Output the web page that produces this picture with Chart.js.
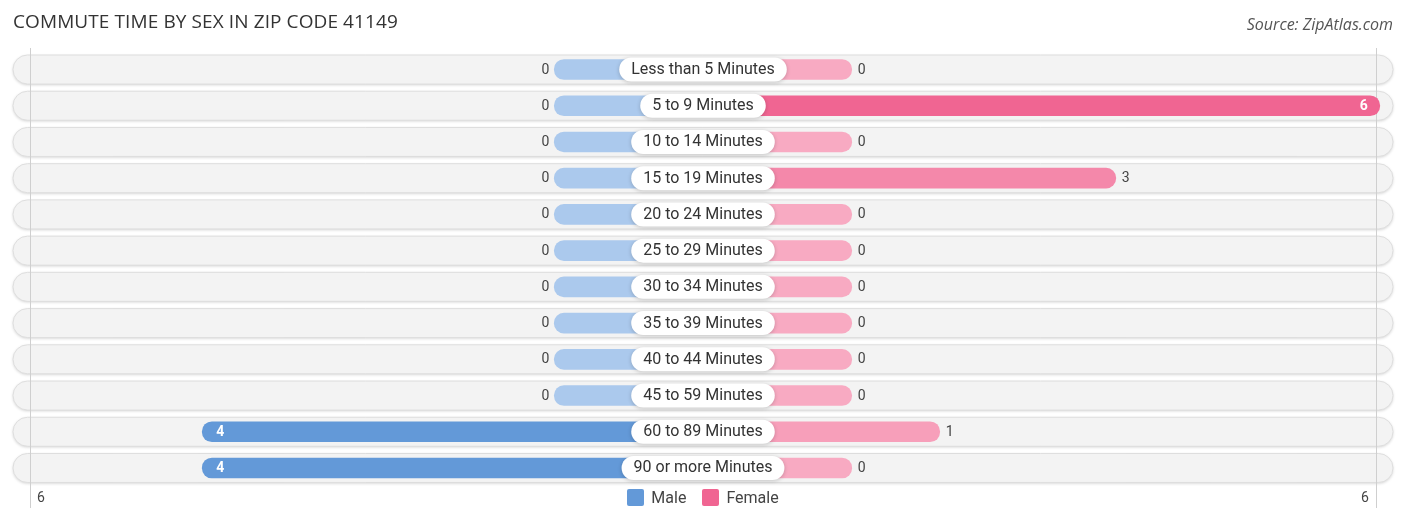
<!DOCTYPE html>
<html>
<head>
<meta charset="utf-8">
<script src="https://cdn.jsdelivr.net/npm/chart.js@4.4.0/dist/chart.umd.min.js"></script>
<style>
  html, body { margin: 0; padding: 0; background: #fff; }
  #wrap { position: relative; width: 1406px; height: 523px; overflow: hidden; }
  #chart { position: absolute; left: 0; top: 0; }
  #title { position: absolute; left: 13px; top: 8px; font: 19px "Open Sans", sans-serif; color: #333; letter-spacing: 0.1px; }
  #source { position: absolute; right: 13px; top: 13px; font: italic 16px "Open Sans", sans-serif; color: #555; }
  #legend { position: absolute; left: 0; width: 1406px; top: 488px; display: flex; justify-content: center; gap: 16px; font: 16px Roboto, sans-serif; color: #444; }
  #legend span { display: inline-flex; align-items: center; }
  #legend i { display: inline-block; width: 17px; height: 17px; border-radius: 2px; margin-right: 7px; }
</style>
</head>
<body>
<div id="wrap">
  <canvas id="chart" width="1406" height="523"></canvas>
  <div id="title">COMMUTE TIME BY SEX IN ZIP CODE 41149</div>
  <div id="source">Source: ZipAtlas.com</div>
  <div id="legend">
    <span><i style="background:#6399d8"></i>Male</span>
    <span><i style="background:#f06592"></i>Female</span>
  </div>
</div>
<script>
// data
const categories = [
  "Less than 5 Minutes", "5 to 9 Minutes", "10 to 14 Minutes", "15 to 19 Minutes",
  "20 to 24 Minutes", "25 to 29 Minutes", "30 to 34 Minutes", "35 to 39 Minutes",
  "40 to 44 Minutes", "45 to 59 Minutes", "60 to 89 Minutes", "90 or more Minutes"
];
const maleValues = [0, 0, 0, 0, 0, 0, 0, 0, 0, 0, 4, 4];
const femaleValues = [0, 6, 0, 3, 0, 0, 0, 0, 0, 0, 1, 0];
const axisTickLabels = ["6", "6"];
const maxValue = 6;

// every bar has a stub under the label, in axis units
const STUB = 1.69;
const HALF = 7.84;

const mix = (a, b, t) => {
  const c = a.map((v, i) => Math.round(v + (b[i] - v) * t));
  return `rgb(${c[0]},${c[1]},${c[2]})`;
};
const maleColor = v => mix([171, 201, 237], [63, 129, 205], v / maxValue);
const femaleColor = v => mix([248, 170, 194], [240, 101, 146], v / maxValue);

const rowTracks = {
  id: "rowTracks",
  beforeDatasetsDraw(chart) {
    const { ctx, chartArea, scales } = chart;
    ctx.save();
    categories.forEach((c, i) => {
      const y = scales.y.getPixelForValue(i);
      ctx.shadowColor = "rgba(0,0,0,0.18)";
      ctx.shadowBlur = 3;
      ctx.shadowOffsetY = 1;
      ctx.fillStyle = "#f3f3f3";
      ctx.beginPath();
      ctx.roundRect(chartArea.left, y - 14.5, chartArea.right - chartArea.left, 29, 14.5);
      ctx.fill();
      ctx.shadowColor = "transparent";
      ctx.strokeStyle = "#dedede";
      ctx.lineWidth = 1;
      ctx.stroke();
    });
    // thin edge lines
    ctx.strokeStyle = "#cfcfcf";
    ctx.lineWidth = 1;
    [chartArea.left + 17.5, chartArea.right - 16.5].forEach(x => {
      ctx.beginPath();
      ctx.moveTo(x, 48);
      ctx.lineTo(x, 508);
      ctx.stroke();
    });
    ctx.restore();
  }
};

const rowLabels = {
  id: "rowLabels",
  afterDatasetsDraw(chart) {
    const { ctx, chartArea, scales } = chart;
    ctx.save();
    ctx.textBaseline = "middle";
    categories.forEach((c, i) => {
      const y = scales.y.getPixelForValue(i);
      const cx = scales.x.getPixelForValue(0);

      // label pill
      ctx.font = "16px Roboto, sans-serif";
      const w = ctx.measureText(c).width + 24;
      ctx.shadowColor = "rgba(0,0,0,0.2)";
      ctx.shadowBlur = 4;
      ctx.shadowOffsetY = 1;
      ctx.fillStyle = "#fff";
      ctx.beginPath();
      ctx.roundRect(cx - w / 2, y - 12, w, 24, 12);
      ctx.fill();
      ctx.shadowColor = "transparent";
      ctx.fillStyle = "#333";
      ctx.textAlign = "center";
      ctx.fillText(c, cx, y + 0.5);

      // values
      const mv = maleValues[i];
      const fv = femaleValues[i];
      const mx = scales.x.getPixelForValue(-(STUB + mv));
      const fx = scales.x.getPixelForValue(STUB + fv);
      if (mv / maxValue > 0.5) {
        ctx.font = "bold 14px Roboto, sans-serif";
        ctx.fillStyle = "#fff";
        ctx.textAlign = "left";
        ctx.fillText(String(mv), mx + 14, y + 0.5);
      } else {
        ctx.font = "14px Roboto, sans-serif";
        ctx.fillStyle = "#444";
        ctx.textAlign = "right";
        ctx.fillText(String(mv), mx - 5, y + 0.5);
      }
      if (fv / maxValue > 0.5) {
        ctx.font = "bold 14px Roboto, sans-serif";
        ctx.fillStyle = "#fff";
        ctx.textAlign = "right";
        ctx.fillText(String(fv), fx - 12, y + 0.5);
      } else {
        ctx.font = "14px Roboto, sans-serif";
        ctx.fillStyle = "#444";
        ctx.textAlign = "left";
        ctx.fillText(String(fv), fx + 6, y + 0.5);
      }
    });

    // axis end labels
    ctx.font = "14px Roboto, sans-serif";
    ctx.fillStyle = "#444";
    ctx.textAlign = "center";
    ctx.fillText(axisTickLabels[0], chartArea.left + 28, 498);
    ctx.fillText(axisTickLabels[1], chartArea.right - 28, 498);
    ctx.restore();
  }
};

new Chart(document.getElementById("chart"), {
  type: "bar",
  data: {
    labels: categories,
    datasets: [
      {
        label: "Male",
        data: maleValues.map(v => [-(STUB + v), 0]),
        backgroundColor: maleValues.map(maleColor),
        borderRadius: 10,
        borderSkipped: false,
        barThickness: 20
      },
      {
        label: "Female",
        data: femaleValues.map(v => [0, STUB + v]),
        backgroundColor: femaleValues.map(femaleColor),
        borderRadius: 10,
        borderSkipped: false,
        barThickness: 20
      }
    ]
  },
  options: {
    indexAxis: "y",
    responsive: false,
    animation: false,
    grouped: false,
    layout: { padding: { left: 13, right: 13, top: 51.4, bottom: 36.9 } },
    scales: {
      x: { type: "linear", min: -HALF, max: HALF, display: false },
      y: { display: false, grid: { display: false } }
    },
    plugins: {
      legend: { display: false },
      tooltip: { enabled: false }
    }
  },
  plugins: [rowTracks, rowLabels]
});
</script>
</body>
</html>
